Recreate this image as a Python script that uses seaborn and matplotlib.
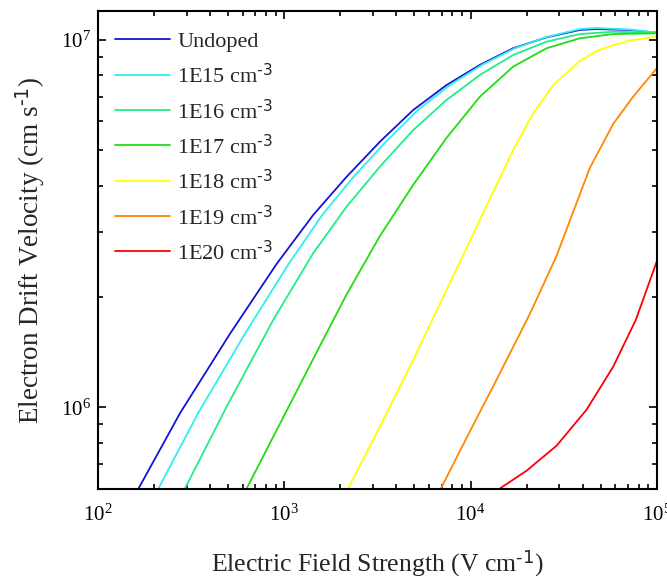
import matplotlib
matplotlib.use("Agg")
import matplotlib.pyplot as plt
import matplotlib.ticker as ticker
import seaborn as sns

# electric field (V/cm) and drift velocity (cm/s)
E_UNDOPED = [165, 276, 511, 910, 1431, 2162, 3264, 4925, 7441, 11230, 16950, 25620, 38660, 47520, 71730, 100000]
V_UNDOPED = [6.02e5, 9.66e5, 1.586e6, 2.457e6, 3.339e6, 4.24e6, 5.28e6, 6.44e6, 7.53e6, 8.54e6, 9.48e6, 1.015e7, 1.063e7, 1.069e7, 1.063e7, 1.045e7]

E_1E15 = [211, 345, 615, 1056, 1600, 2358, 3516, 5222, 7751, 11510, 17310, 25620, 38660, 47520, 71730, 100000]
V_1E15 = [6.02e5, 9.66e5, 1.586e6, 2.457e6, 3.339e6, 4.24e6, 5.28e6, 6.44e6, 7.53e6, 8.54e6, 9.48e6, 1.017e7, 1.069e7, 1.076e7, 1.066e7, 1.046e7]

E_1E16 = [293, 491, 873, 1431, 2162, 3264, 4925, 7441, 11230, 16950, 25620, 38660, 58340, 100000]
V_1E16 = [6.02e5, 1.006e6, 1.731e6, 2.628e6, 3.517e6, 4.517e6, 5.68e6, 6.86e6, 8.02e6, 9.09e6, 9.88e6, 1.036e7, 1.051e7, 1.045e7]

E_1E17 = [628, 948, 1431, 2162, 3264, 4925, 7441, 11230, 16950, 25620, 38660, 58340, 100000]
V_1E17 = [6.02e5, 9.03e5, 1.356e6, 2.03e6, 2.928e6, 4.03e6, 5.41e6, 7.0e6, 8.45e6, 9.48e6, 1.009e7, 1.036e7, 1.041e7]

E_1E18 = [2206, 3264, 4925, 7441, 11230, 16950, 21710, 27800, 38660, 47700, 58340, 71730, 100000]
V_1E18 = [6.03e5, 8.88e5, 1.348e6, 2.088e6, 3.236e6, 5.015e6, 6.31e6, 7.53e6, 8.75e6, 9.32e6, 9.67e6, 9.95e6, 1.019e7]

E_1E19 = [6936, 9530, 13810, 20840, 28990, 35590, 43740, 58340, 74690, 100000]
V_1E19 = [6.02e5, 8.27e5, 1.19e6, 1.797e6, 2.584e6, 3.402e6, 4.48e6, 5.90e6, 7.0e6, 8.36e6]

E_1E20 = [14380, 20010, 28990, 42000, 58340, 77240, 100000]
V_1E20 = [6.02e5, 6.73e5, 7.87e5, 9.86e5, 1.29e6, 1.731e6, 2.493e6]

LABELS = ["Undoped", "1E15 cm$^{\\text{-3}}$", "1E16 cm$^{\\text{-3}}$", "1E17 cm$^{\\text{-3}}$",
          "1E18 cm$^{\\text{-3}}$", "1E19 cm$^{\\text{-3}}$", "1E20 cm$^{\\text{-3}}$"]
COLORS = ["#1414d8", "#30eeee", "#20ee88", "#22dd11", "#ffff00", "#ff8800", "#ff0000"]

series = [(E_UNDOPED, V_UNDOPED), (E_1E15, V_1E15), (E_1E16, V_1E16), (E_1E17, V_1E17),
          (E_1E18, V_1E18), (E_1E19, V_1E19), (E_1E20, V_1E20)]

sns.set_theme(style="ticks")
plt.rcParams["font.family"] = ["Liberation Serif", "DejaVu Serif"]
plt.rcParams["mathtext.default"] = "regular"

fig = plt.figure(figsize=(6.67, 5.79), dpi=100)
ax = fig.add_axes([0.147, 0.1554, 0.8376, 0.8256])

for (e, v), lab, col in zip(series, LABELS, COLORS):
    sns.lineplot(x=e, y=v, color=col, label=lab, linewidth=1.3, ax=ax)

ax.set_xscale("log")
ax.set_yscale("log")
ax.set_xlim(100, 1e5)
ax.set_ylim(6.0e5, 1.197e7)

ax.yaxis.set_minor_formatter(ticker.NullFormatter())
ax.xaxis.set_minor_formatter(ticker.NullFormatter())
ax.tick_params(which="both", direction="in", top=True, right=True, width=1.2, colors="black")
ax.tick_params(which="major", length=6, labelsize=15)
ax.tick_params(which="minor", length=3.5)
ax.tick_params(axis="x", which="major", pad=11)
ax.tick_params(axis="y", which="major", pad=5)
for s in ax.spines.values():
    s.set_linewidth(1.5)
    s.set_color("black")

ax.set_xlabel("Electric Field Strength (V cm$^{\\text{-1}}$)", fontsize=18.5, labelpad=16)
ax.set_ylabel("Electron Drift Velocity (cm s$^{\\text{-1}}$)", fontsize=19.5, labelpad=10)

ax.legend(loc="upper left", bbox_to_anchor=(0.03, 0.957), frameon=False, fontsize=16,
          handlelength=2.5, labelspacing=0.52, borderaxespad=0, borderpad=0, handletextpad=0.3)

plt.savefig("out.png", dpi=100)
